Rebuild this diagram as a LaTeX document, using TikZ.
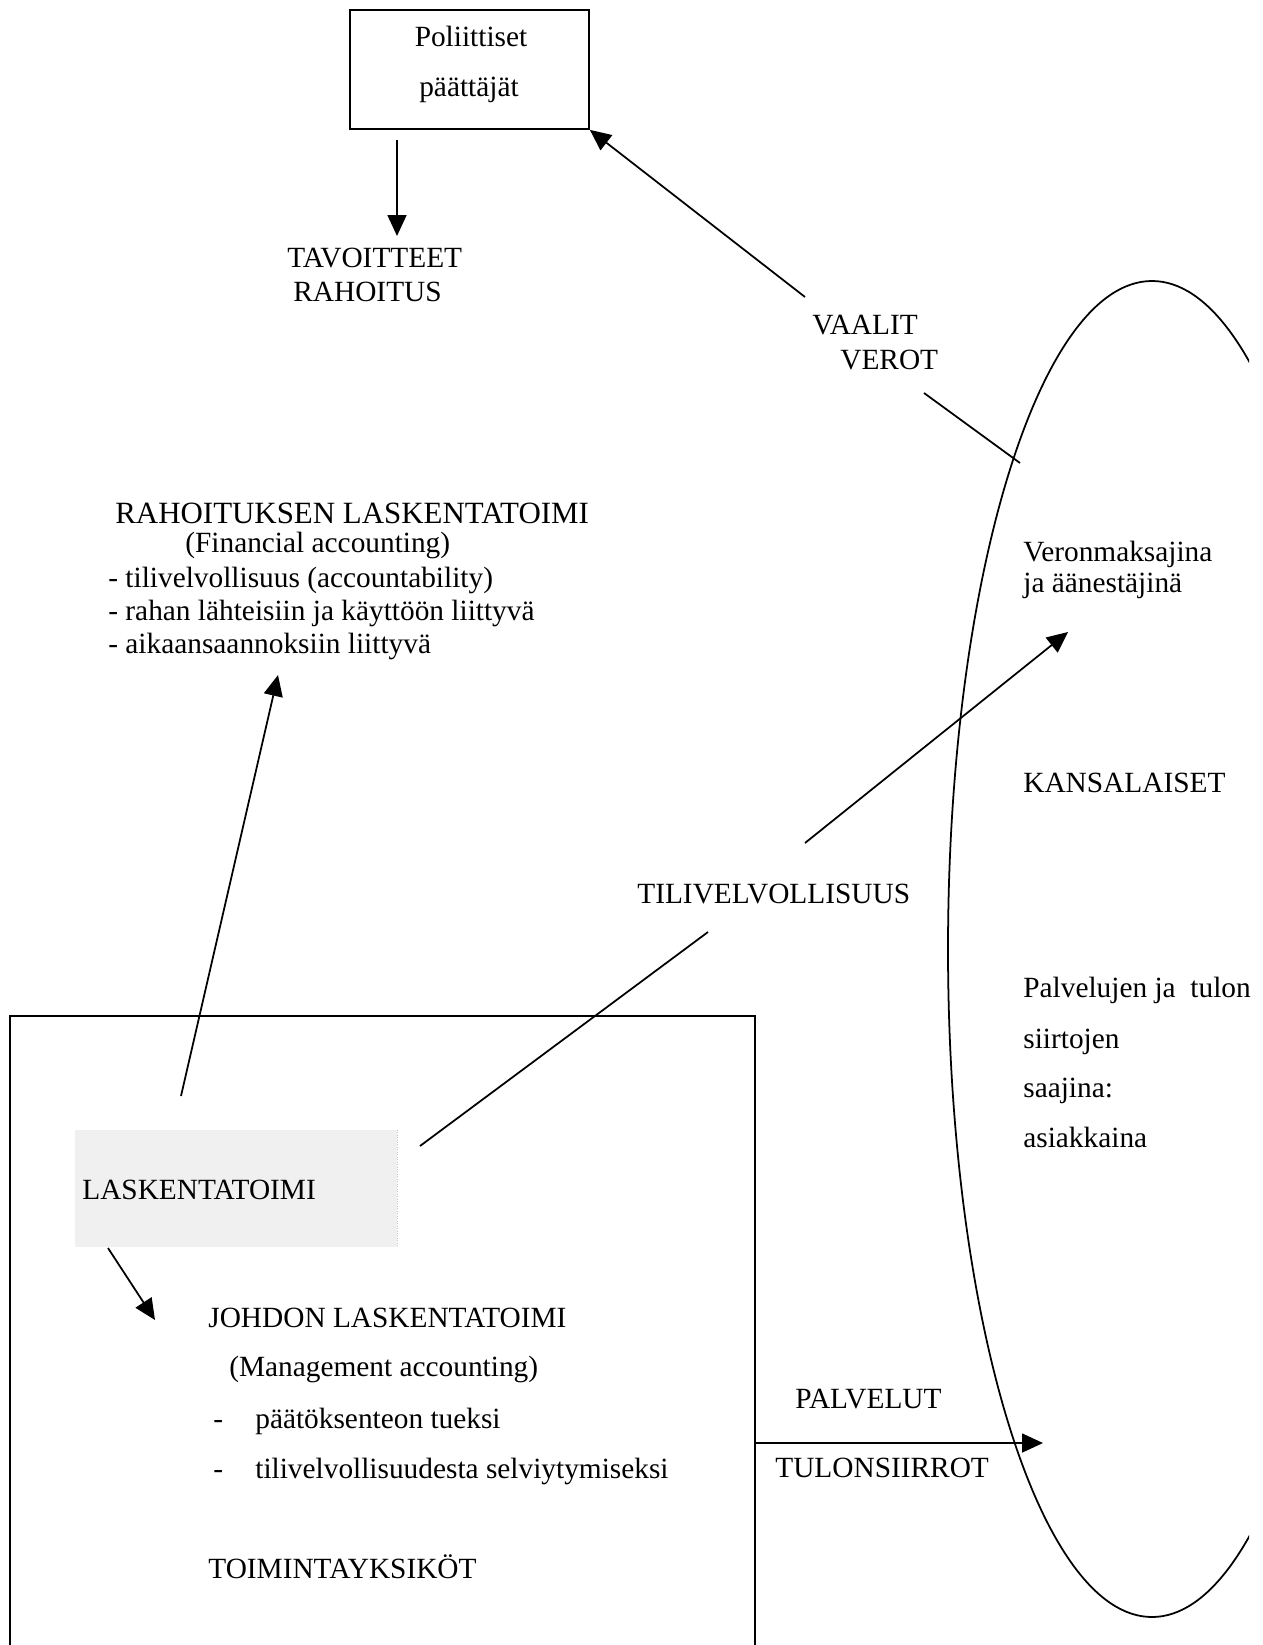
\documentclass[tikz,border=0pt]{standalone}
\usepackage{fontspec}
\setmainfont{Liberation Serif}
\usetikzlibrary{arrows.meta}

\begin{document}
\begin{tikzpicture}[x=0.02cm,y=-0.02cm,
  every node/.style={font=\fontsize{16.7}{19}\selectfont, inner sep=0pt},
  txt/.style={anchor=base west},
  ln/.style={line width=1pt},
  arr/.style={line width=1pt,-{Triangle[length=0.42cm,width=0.38cm]}}]
  \useasboundingbox (0,0) rectangle (1263,1645);

  % poliittiset paattajat
  \node[draw, line width=1pt, minimum width=4.78cm, minimum height=2.38cm] (paattajat) at (469.5,69.5) {};
  \node[anchor=base] (polit) at (471,47) {Poliittiset};
  \node[anchor=base] (paatt) at (469,97) {päättäjät};
  \node[txt] (tavoitteet) at (287,268) {TAVOITTEET};
  \node[txt] (rahoitus) at (293,302) {RAHOITUS};
  \coordinate (d1) at (397,140);
  \coordinate (d2) at (397,236);
  \draw[arr] (d1) -- (d2);

  % vaalit, verot
  \node[txt] (vaalit) at (812,335) {VAALIT};
  \node[txt] (verot) at (840,370) {VEROT};
  \coordinate (v1) at (805,297);
  \coordinate (v2) at (924,393);
  \coordinate (v3) at (1020,463);
  \draw[arr] (v1) -- (paattajat.south east);
  \draw[ln] (v2) -- (v3);

  % kansalaiset
  \begin{scope}
    \clip (0,0) rectangle (1249,1645);
    \draw[ln] (1152,949) ellipse [x radius=204, y radius=668];
  \end{scope}
  \node[txt] (veronm) at (1023,561) {Veronmaksajina};
  \node[txt] (aanest) at (1023,592) {ja äänestäjinä};
  \node[txt] (kansalaiset) at (1023,792) {KANSALAISET};
  \node[txt] (palvelujen) at (1023,997) {Palvelujen ja \ tulon};
  \node[txt] (siirtojen) at (1023,1048) {siirtojen};
  \node[txt] (saajina) at (1023,1097) {saajina:};
  \node[txt] (asiakkaina) at (1023,1147) {asiakkaina};

  % rahoituksen laskentatoimi
  \node[txt, font=\fontsize{17.6}{20}\selectfont] (rlt) at (115,523) {RAHOITUKSEN LASKENTATOIMI};
  \node[txt] (finacc) at (185,552) {(Financial accounting)};
  \node[txt] (rlt1) at (108,587) {- tilivelvollisuus (accountability)};
  \node[txt] (rlt2) at (108,620) {- rahan lähteisiin ja käyttöön liittyvä};
  \node[txt] (rlt3) at (108,653) {- aikaansaannoksiin liittyvä};

  % tilivelvollisuus
  \node[txt] (tiliv) at (637,903) {TILIVELVOLLISUUS};
  \coordinate (t1) at (805,843);
  \coordinate (t2) at (1068,632);
  \coordinate (t3) at (708,932);
  \coordinate (t4) at (420,1146);
  \draw[arr] (t1) -- (t2);
  \draw[ln] (t3) -- (t4);

  % toimintayksikot
  \draw[ln] (10,1645) -- (10,1016) -- (755,1016) -- (755,1645);
  \node[fill=gray!12, minimum width=6.44cm, minimum height=2.34cm] (laskentabg) at (236,1188.5) {};
  \draw[gray!45, densely dotted] (laskentabg.north east) -- (laskentabg.south east);
  \node[txt] (laskenta) at (82,1199) {LASKENTATOIMI};
  \coordinate (l1) at (181,1096);
  \coordinate (l2) at (278,675);
  \coordinate (l3) at (108,1248);
  \coordinate (l4) at (155,1320);
  \draw[arr] (l1) -- (l2);
  \draw[arr] (l3) -- (l4);

  \node[txt] (johdon) at (208,1327) {JOHDON LASKENTATOIMI};
  \node[txt] (manacc) at (229,1376) {(Management accounting)};
  \node[txt] (dash1) at (213,1428) {-};
  \node[txt] (jlt1) at (255,1428) {päätöksenteon tueksi};
  \node[txt] (dash2) at (213,1478) {-};
  \node[txt] (jlt2) at (255,1478) {tilivelvollisuudesta selviytymiseksi};
  \node[txt] (toimy) at (208,1578) {TOIMINTAYKSIKÖT};

  % palvelut, tulonsiirrot
  \node[txt] (palvelut) at (795,1408) {PALVELUT};
  \node[txt] (tulons) at (775,1477) {TULONSIIRROT};
  \coordinate (p1) at (755,1443);
  \coordinate (p2) at (1043,1443);
  \draw[arr] (p1) -- (p2);
\end{tikzpicture}
\end{document}
